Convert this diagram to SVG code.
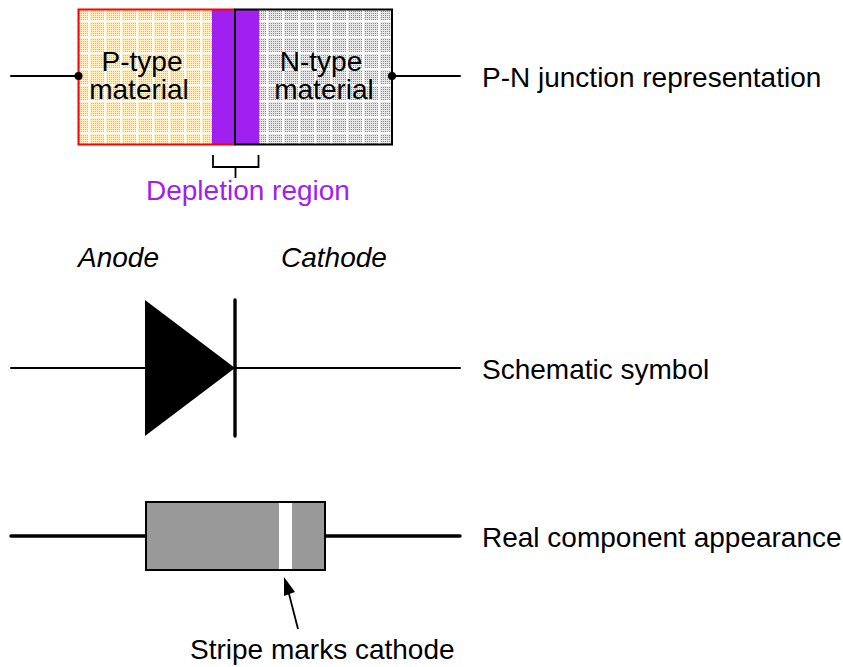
<svg xmlns="http://www.w3.org/2000/svg" width="843" height="667" viewBox="0 0 843 667">
<style>
text{font-family:"Liberation Sans",Arial,sans-serif;font-size:28px;fill:#000}
.m{text-anchor:middle}
.w{fill:none;stroke:#000;stroke-width:2;stroke-linecap:round}
.t{fill:none;stroke:#000;stroke-width:3.400;stroke-linecap:round}
.dots{fill:none;stroke-width:1;stroke-dasharray:1 1}
</style>
<defs>
<pattern id="pg" x="88" y="20" width="16" height="16" patternUnits="userSpaceOnUse"><rect x="2" y="2" width="14" height="14" fill="#ffedc0"/><path class="dots" stroke="#ffb82a" d="M3 3.500H16M3 5.500H16M3 7.500H16M3 9.500H16M3 11.500H16M3 13.500H16M3 15.500H16"/></pattern>
<pattern id="ng" x="266" y="20" width="16" height="16" patternUnits="userSpaceOnUse"><rect x="2" y="2" width="14" height="14" fill="#e6e6e6"/><path class="dots" stroke="#8c8c8c" d="M3 3.500H16M3 5.500H16M3 7.500H16M3 9.500H16M3 11.500H16M3 13.500H16M3 15.500H16"/></pattern>
</defs>
<g id="connectors">
<path class="w" d="M11 76H78M392 76H460M11 368H460"/>
<path class="t" d="M11 536H146M325 536H460"/>
<path d="M213 155V167H258.500V155M235.500 167V178" fill="none" stroke="#000" stroke-width="1.800"/>
<path d="M298 629L288 590" stroke="#000" stroke-width="1.800" fill="none"/>
<path d="M284 577L295 592L284 596Z" fill="#000"/>
</g>
<g id="pn-junction">
<rect x="78.500" y="9.500" width="157" height="135" fill="url(#pg)"/>
<rect x="235" y="9.500" width="157" height="135" fill="url(#ng)"/>
<rect x="212" y="9.500" width="47" height="135" fill="#a020f0"/>
<path d="M235 9.500H78.500V144.500H235" fill="none" stroke="#f00" stroke-width="2"/>
<path d="M235 9.500H392V144.500H235Z" fill="none" stroke="#000" stroke-width="2"/>
<circle cx="78.500" cy="76" r="4" fill="#000"/>
<circle cx="392" cy="76" r="4" fill="#000"/>
<text class="m" x="142" y="71">P-type</text>
<text class="m" x="139" y="99">material</text>
<text class="m" x="321" y="71">N-type</text>
<text class="m" x="324" y="99">material</text>
</g>
<g id="diode-symbol">
<path d="M145 300L235 368L145 436Z" fill="#000"/>
<path d="M235 300V436" stroke="#000" stroke-width="3.400" stroke-linecap="round" fill="none"/>
</g>
<g id="component">
<rect x="146" y="502" width="179" height="68" fill="#999" stroke="#000" stroke-width="2"/>
<rect x="279" y="503" width="13" height="66" fill="#fff"/>
</g>
<g id="labels">
<text x="482" y="87">P-N junction representation</text>
<text x="146" y="200" style="fill:#a020f0">Depletion region</text>
<text x="78" y="267" font-style="italic">Anode</text>
<text x="281" y="267" font-style="italic">Cathode</text>
<text x="482" y="379">Schematic symbol</text>
<text x="482" y="547">Real component appearance</text>
<text x="190" y="659">Stripe marks cathode</text>
</g>
</svg>
